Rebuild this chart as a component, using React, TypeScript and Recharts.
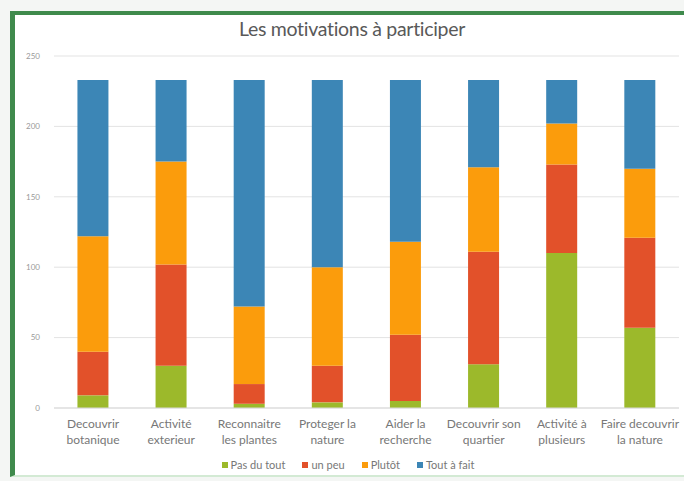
import { BarChart, Bar, XAxis, YAxis, CartesianGrid, Legend } from "recharts";

const categories = [
  "Decouvrir botanique",
  "Activité exterieur",
  "Reconnaitre les plantes",
  "Proteger la nature",
  "Aider la recherche",
  "Decouvrir son quartier",
  "Activité à plusieurs",
  "Faire decouvrir la nature",
];

// line breaks of the axis labels
const labelLines = [
  ["Decouvrir", "botanique"],
  ["Activité", "exterieur"],
  ["Reconnaitre", "les plantes"],
  ["Proteger la", "nature"],
  ["Aider la", "recherche"],
  ["Decouvrir son", "quartier"],
  ["Activité à", "plusieurs"],
  ["Faire decouvrir", "la nature"],
];

const pasDuTout = [9, 30, 3, 4, 5, 31, 110, 57];
const unPeu = [31, 72, 14, 26, 47, 80, 63, 64];
const plutot = [82, 73, 55, 70, 66, 60, 29, 49];
const toutAFait = [111, 58, 161, 133, 115, 62, 31, 63];

const yTicks = [0, 50, 100, 150, 200, 250];

const series = [
  { key: "pasDuTout", name: "Pas du tout", color: "#9cb92b" },
  { key: "unPeu", name: "un peu", color: "#e2512a" },
  { key: "plutot", name: "Plutôt", color: "#fb9c0c" },
  { key: "toutAFait", name: "Tout à fait", color: "#3c86b6" },
];

const data = categories.map((c, i) => ({
  name: c,
  pasDuTout: pasDuTout[i],
  unPeu: unPeu[i],
  plutot: plutot[i],
  toutAFait: toutAFait[i],
}));

const font = "Lato, 'Open Sans', sans-serif";

function CatTick(props: any) {
  const { x, y, index } = props;
  const lines = labelLines[index] || [];
  return (
    <text x={x} y={y} textAnchor="middle" fill="#777777" fontSize={12} fontFamily={font}>
      {lines.map((l, i) => (
        <tspan key={i} x={x} dy={i === 0 ? 12 : 16}>
          {l}
        </tspan>
      ))}
    </text>
  );
}

function LegendBox() {
  return (
    <div style={{ display: "flex", justifyContent: "center", gap: 17, fontFamily: font, fontSize: 11, color: "#777777" }}>
      {series.map((s) => (
        <span key={s.key} style={{ display: "flex", alignItems: "center" }}>
          <span style={{ width: 6, height: 6, background: s.color, marginRight: 3, display: "inline-block" }} />
          {s.name}
        </span>
      ))}
    </div>
  );
}

export default function App() {
  return (
    <div style={{ position: "absolute", left: 0, top: 0, width: 684, height: 481, background: "#f4f6f4", overflow: "hidden" }}>
      <div
        style={{
          position: "absolute",
          left: 10,
          top: 11,
          width: 690,
          height: 460,
          borderLeft: "5px solid #3f8a4c",
          borderTop: "4px solid #3f8a4c",
          borderBottom: "2px solid #d3ead4",
          background: "#ffffff",
        }}
      />
      <div
        style={{
          position: "absolute",
          left: 0,
          top: 17,
          width: 704,
          textAlign: "center",
          fontFamily: font,
          fontSize: 19.5,
          color: "#595959",
          letterSpacing: -0.3,
        }}
      >
        Les motivations à participer
      </div>
      <BarChart
        width={684}
        height={481}
        data={data}
        margin={{ top: 56, right: 5, bottom: 33, left: 14 }}
        barCategoryGap="30%"
        style={{ position: "absolute", left: 0, top: 0 }}
      >
        <CartesianGrid vertical={false} stroke="#e3e3e3" />
        <XAxis
          dataKey="name"
          height={40}
          tick={<CatTick />}
          tickLine={false}
          axisLine={{ stroke: "#d9d9d9" }}
          interval={0}
        />
        <YAxis
          width={40}
          domain={[0, 250]}
          ticks={yTicks}
          tickLine={false}
          axisLine={false}
          tickMargin={8}
          tick={{ fontSize: 8, fill: "#999999", fontFamily: font }}
        />
        <Legend
          verticalAlign="middle"
          layout="horizontal"
          wrapperStyle={{ top: 458, left: 0, width: 696 }}
          content={<LegendBox />}
        />
        {series.map((s) => (
          <Bar key={s.key} dataKey={s.key} name={s.name} stackId="a" fill={s.color} isAnimationActive={false} />
        ))}
      </BarChart>
    </div>
  );
}
